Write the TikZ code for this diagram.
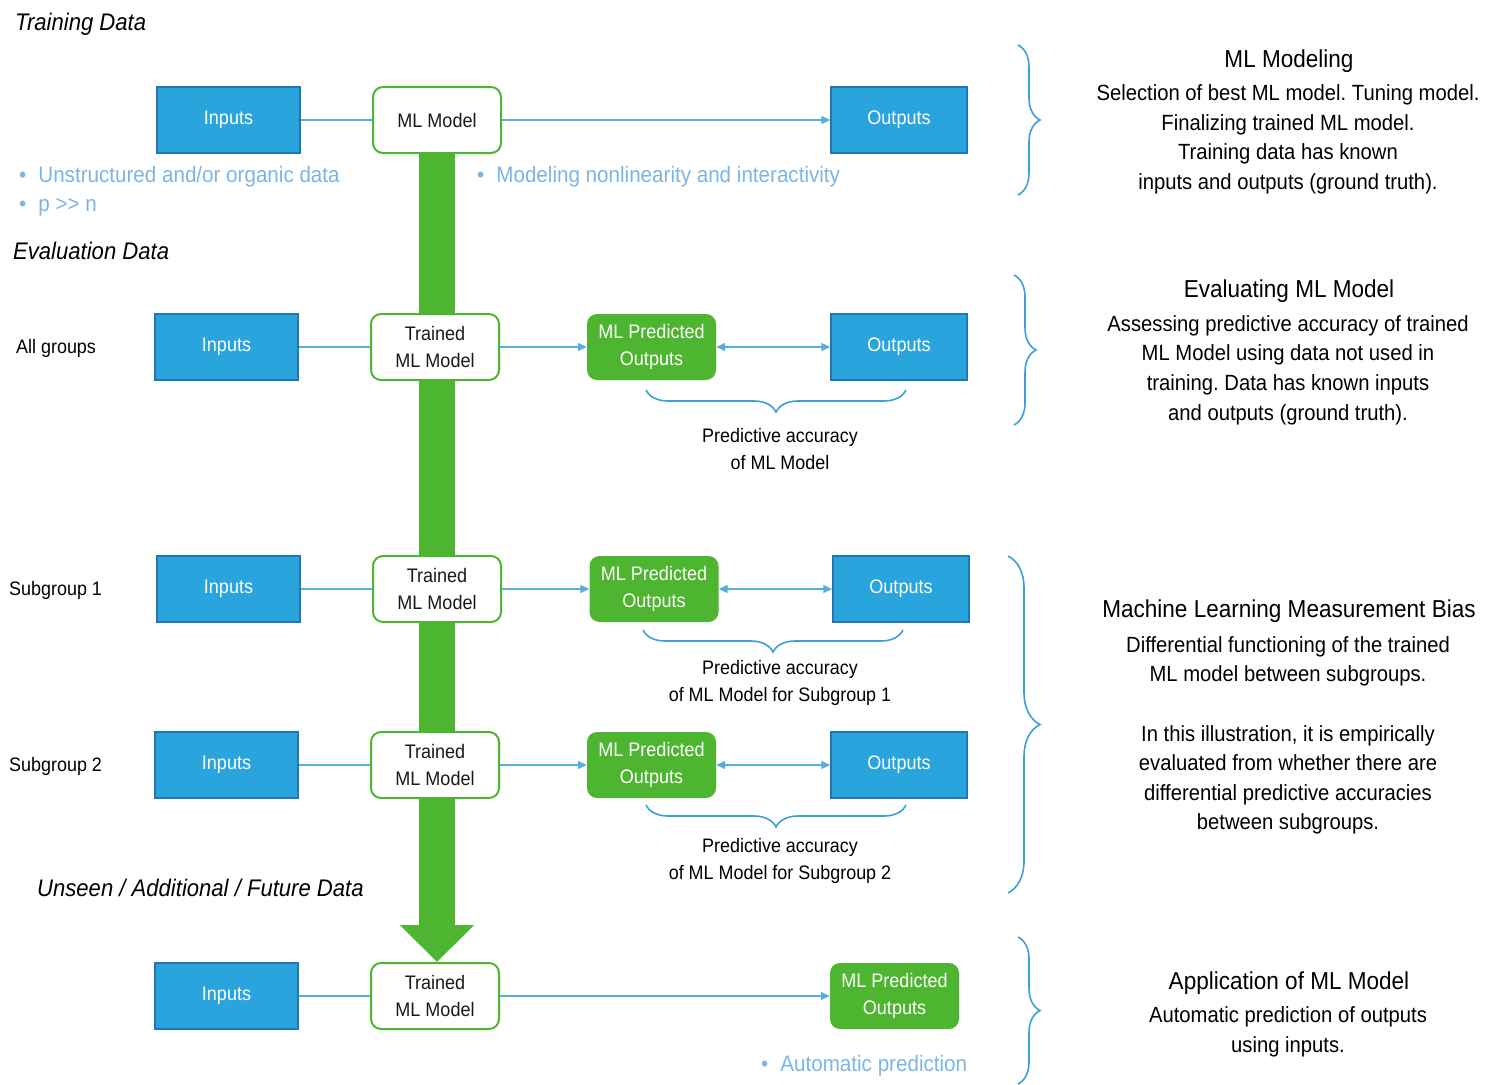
\documentclass[tikz,border=0pt]{standalone}
\usepackage{fontspec}
\setmainfont{Liberation Sans}[FakeStretch=0.92]
\usetikzlibrary{arrows.meta,decorations.pathreplacing,calc}
\frenchspacing
\definecolor{boxblue}{HTML}{29A4DD}
\definecolor{boxedge}{HTML}{1F78B4}
\definecolor{mlgreen}{HTML}{4DB52F}
\definecolor{linkblue}{HTML}{55ADE0}
\definecolor{notes}{HTML}{7DB5E2}
\definecolor{bracec}{HTML}{3C9FD9}
\pgfdeclarelayer{back}
\pgfsetlayers{back,main}
\tikzset{
  box/.style={font=\fontsize{19.6}{27}\selectfont, align=center, inner sep=0pt},
  data/.style={box, rectangle, fill=boxblue, draw=boxedge, line width=1.5pt, text=white,
    minimum width=143pt, minimum height=66pt},
  outbox/.style={data, minimum width=136pt},
  model/.style={box, rounded corners=10pt, draw=mlgreen, line width=2pt, fill=white,
    text=black!90, minimum width=128pt, minimum height=66pt},
  pred/.style={box, rounded corners=10pt, fill=mlgreen, text=white,
    minimum width=129pt, minimum height=66pt},
  link/.style={draw=linkblue, line width=1.3pt},
  arr/.style={link, -{Triangle[length=9pt,width=8pt]}},
  darr/.style={link, {Triangle[length=9pt,width=8pt]}-{Triangle[length=9pt,width=8pt]}},
  brc/.style={draw=bracec, line width=1.6pt, decorate, decoration={brace, amplitude=#1}},
  brc/.default=22pt,
  heading/.style={anchor=west, inner sep=0pt, font=\fontsize{24}{28}\selectfont\itshape},
  rowlabel/.style={anchor=west, inner sep=0pt, font=\fontsize{19.5}{23}\selectfont},
  note/.style={anchor=west, inner sep=0pt, text=notes, font=\fontsize{22.4}{26}\selectfont},
  caption/.style={align=center, inner sep=0pt, font=\fontsize{19.5}{27}\selectfont},
  title/.style={align=center, inner sep=0pt, font=\fontsize{24.5}{30}\selectfont},
  body/.style={align=center, inner sep=0pt, font=\fontsize{22}{29.6}\selectfont},
}
\newcommand{\bul}{\textbullet\hspace{12pt}}
\begin{document}
\begin{tikzpicture}[x=1pt, y=-1pt]
\useasboundingbox (0,0) rectangle (1488,1084);

% section headings
\node[heading] (hTrain) at (15,24) {Training Data};
\node[heading] (hEval) at (13,251) {Evaluation Data};
\node[heading] (hNew) at (37,888) {Unseen / Additional / Future Data};

% row labels
\node[rowlabel] (lAll) at (16,348) {All groups};
\node[rowlabel] (lS1) at (9,590) {Subgroup 1};
\node[rowlabel] (lS2) at (9,766) {Subgroup 2};

% training row
\node[data] (in1) at (228.5,120) {Inputs};
\node[model] (m1) at (437,120) {ML Model};
\node[outbox] (out1) at (899,120) {Outputs};

% evaluation, all groups
\node[data] (in2) at (226.5,347) {Inputs};
\node[model] (m2) at (435,347) {Trained\\ML Model};
\node[pred] (p2) at (651.5,347) {ML Predicted\\Outputs};
\node[outbox] (out2) at (899,347) {Outputs};

% evaluation, subgroup 1
\node[data] (in3) at (228.5,589) {Inputs};
\node[model] (m3) at (437,589) {Trained\\ML Model};
\node[pred] (p3) at (654,589) {ML Predicted\\Outputs};
\node[outbox] (out3) at (901,589) {Outputs};

% evaluation, subgroup 2
\node[data] (in4) at (226.5,765) {Inputs};
\node[model] (m4) at (435,765) {Trained\\ML Model};
\node[pred] (p4) at (651.5,765) {ML Predicted\\Outputs};
\node[outbox] (out4) at (899,765) {Outputs};

% application row
\node[data] (in5) at (226.5,996) {Inputs};
\node[model] (m5) at (435,996) {Trained\\ML Model};
\node[pred] (p5) at (894.5,996) {ML Predicted\\Outputs};

% big green arrow carrying the trained model down
\begin{pgfonlayer}{back}
\draw[mlgreen, line width=36pt, -{Triangle[length=37pt,width=72pt]}]
  (m1.south) -- (m1.south |- m5.north);
\end{pgfonlayer}

% connectors
\draw[link] (in1) -- (m1);
\draw[arr] (m1) -- (out1);
\draw[link] (in2) -- (m2);
\draw[arr] (m2) -- (p2);
\draw[darr] (p2) -- (out2);
\draw[link] (in3) -- (m3);
\draw[arr] (m3) -- (p3);
\draw[darr] (p3) -- (out3);
\draw[link] (in4) -- (m4);
\draw[arr] (m4) -- (p4);
\draw[darr] (p4) -- (out4);
\draw[link] (in5) -- (m5);
\draw[arr] (m5) -- (p5);

% notes
\node[note] (n1) at (19,177) {\bul Unstructured and/or organic data};
\node[note] (n2) at (19,207) {\bul p >{}> n};
\node[note] (n3) at (477,177) {\bul Modeling nonlinearity and interactivity};
\node[note] (n4) at (761,1066) {\bul Automatic prediction};

% accuracy braces
\draw[brc] (906,390) -- (646,390);
\node[caption] (c2) at (780,449) {Predictive accuracy\\of ML Model};
\draw[brc] (903,630) -- (643,630);
\node[caption] (c3) at (780,683) {Predictive accuracy\\of ML Model for Subgroup 1};
\draw[brc] (906,805) -- (646,805);
\node[caption] (c4) at (780,861) {Predictive accuracy\\of ML Model for Subgroup 2};

% side braces
\draw[brc] (1018,45) -- (1018,195);
\draw[brc] (1014,275) -- (1014,425);
\draw[brc=32pt] (1008,556) -- (1008,893);
\draw[brc] (1018,937) -- (1018,1084);

% side descriptions
\node[title] (t1) at (1289,61) {ML Modeling};
\node[body] (d1) at (1288,139.5) {Selection of best ML model. Tuning model.\\Finalizing trained ML model.\\Training data has known\\inputs and outputs (ground truth).};
\node[title] (t2) at (1289,291) {Evaluating ML Model};
\node[body] (d2) at (1288,370) {Assessing predictive accuracy of trained\\ML Model using data not used in\\training. Data has known inputs\\and outputs (ground truth).};
\node[title] (t3) at (1289,611) {Machine Learning Measurement Bias};
\node[body] (d3) at (1288,735.5) {Differential functioning of the trained\\ML model between subgroups.\\[29.6pt]In this illustration, it is empirically\\evaluated from whether there are\\differential predictive accuracies\\between subgroups.};
\node[title] (t4) at (1289,983) {Application of ML Model};
\node[body] (d4) at (1288,1031.5) {Automatic prediction of outputs\\using inputs.};
\end{tikzpicture}
\end{document}
